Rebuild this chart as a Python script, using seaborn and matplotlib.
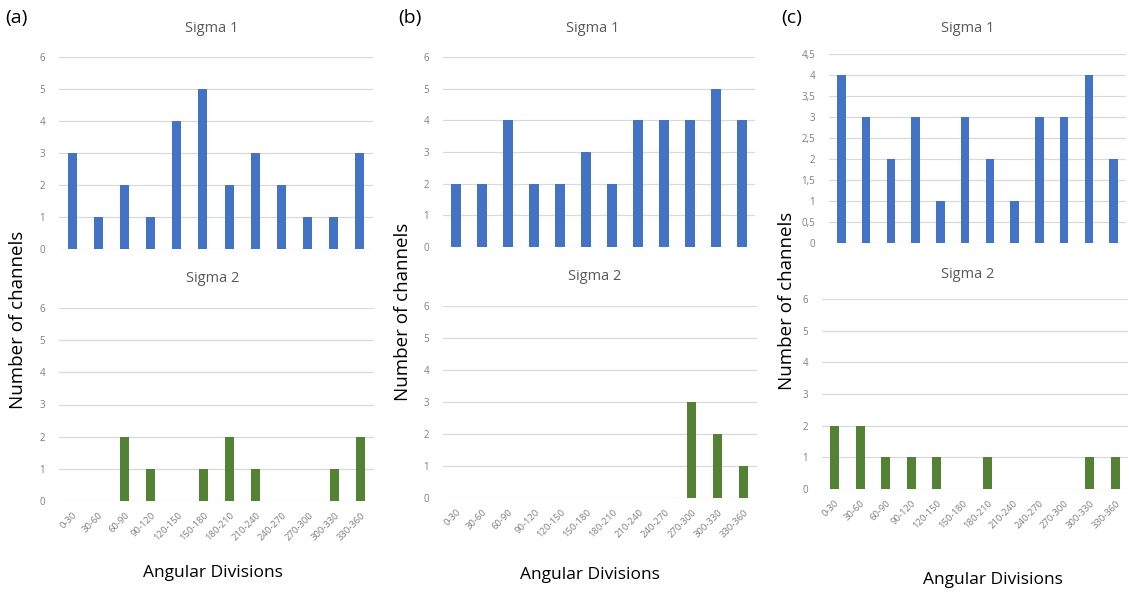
import matplotlib
matplotlib.use("Agg")
import matplotlib.pyplot as plt
import seaborn as sns
import pandas as pd

# Angular bins (degrees)
categories = ["0-30", "30-60", "60-90", "90-120", "120-150", "150-180",
              "180-210", "210-240", "240-270", "270-300", "300-330", "330-360"]

# Number of channels per angular division
a_sigma1 = [3, 1, 2, 1, 4, 5, 2, 3, 2, 1, 1, 3]
a_sigma2 = [0, 0, 2, 1, 0, 1, 2, 1, 0, 0, 1, 2]
b_sigma1 = [2, 2, 4, 2, 2, 3, 2, 4, 4, 4, 5, 4]
b_sigma2 = [0, 0, 0, 0, 0, 0, 0, 0, 0, 3, 2, 1]
c_sigma1 = [4, 3, 2, 3, 1, 3, 2, 1, 3, 3, 4, 2]
c_sigma2 = [2, 2, 1, 1, 1, 0, 1, 0, 0, 0, 1, 1]

panel_letters = ["(a)", "(b)", "(c)"]
sigma_titles = ["Sigma 1", "Sigma 2"]

sns.set_theme(style="white")
plt.rcParams["font.family"] = ["Open Sans", "DejaVu Sans"]

W, H = 1129, 597
fig = plt.figure(figsize=(W / 100, H / 100), dpi=100)
fig.patch.set_facecolor("white")

BLUE = "#4472C4"
GREEN = "#548235"
GRID = "#D9D9D9"
TICK = "#7F7F7F"
TITLE = "#595959"


def add_ax(left, top, right, bottom):
    return fig.add_axes([left / W, 1 - bottom / H, (right - left) / W, (bottom - top) / H])


def draw(ax, values, color, ymax, step, show_x, comma=False):
    df = pd.DataFrame({"angle": categories, "count": values})
    sns.barplot(data=df, x="angle", y="count", color=color, saturation=1,
                width=0.35, linewidth=0, ax=ax, order=categories)
    ax.set_xlim(-0.5, len(categories) - 0.5)
    ax.set_ylim(0, ymax)
    n = int(round(ymax / step))
    ticks = [i * step for i in range(n + 1)]
    ax.set_yticks(ticks)
    if comma:
        labels = [("%g" % t).replace(".", ",") for t in ticks]
    else:
        labels = ["%g" % t for t in ticks]
    ax.set_yticklabels(labels, fontsize=7, color=TICK)
    ax.yaxis.grid(True, color=GRID, linewidth=0.9)
    ax.set_axisbelow(True)
    for s in ax.spines.values():
        s.set_visible(False)
    ax.tick_params(axis="both", length=0, pad=10)
    ax.set_xlabel("")
    ax.set_ylabel("")
    if show_x:
        ax.set_xticks(range(len(categories)))
        ax.set_xticklabels(categories, rotation=45, ha="right",
                           rotation_mode="anchor", fontsize=6.8, color=TICK)
        ax.tick_params(axis="x", pad=7)
    else:
        ax.set_xticks([])


# Panel (a)
ax = add_ax(59, 57, 373, 249)
draw(ax, a_sigma1, BLUE, 6, 1, False)
ax = add_ax(59, 308, 374, 501)
draw(ax, a_sigma2, GREEN, 6, 1, True)

# Panel (b)
ax = add_ax(443, 57, 755, 247)
draw(ax, b_sigma1, BLUE, 6, 1, False)
ax = add_ax(443, 306, 757, 498)
draw(ax, b_sigma2, GREEN, 6, 1, True)

# Panel (c)
ax = add_ax(829, 54, 1126, 243)
draw(ax, c_sigma1, BLUE, 4.5, 0.5, False, comma=True)
ax = add_ax(822, 299, 1128, 489)
draw(ax, c_sigma2, GREEN, 6, 1, True)


def ftext(x, y, s, **kw):
    fig.text(x / W, 1 - y / H, s, **kw)


# Panel letters
for (x, y), letter in zip([(16, 18), (410, 18), (792, 18)], panel_letters):
    ftext(x, y, letter, fontsize=14, ha="center", va="center", color="black")

# Sub-chart titles
for (x1, y1, x2, y2) in [(212, 28, 213, 279), (593, 28, 595, 277), (968, 28, 968, 275)]:
    ftext(x1, y1, sigma_titles[0], fontsize=10.5, ha="center", va="center", color=TITLE)
    ftext(x2, y2, sigma_titles[1], fontsize=10.5, ha="center", va="center", color=TITLE)

# Axis labels
for (x, y) in [(18, 320), (403, 312), (787, 301)]:
    ftext(x, y, "Number of channels", fontsize=13.5, rotation=90,
          ha="center", va="center", color="black")
for (x, y) in [(213, 573), (590, 575), (993, 580)]:
    ftext(x, y, "Angular Divisions", fontsize=12.5, ha="center", va="center", color="black")

fig.savefig("out.png", dpi=100, facecolor="white")
